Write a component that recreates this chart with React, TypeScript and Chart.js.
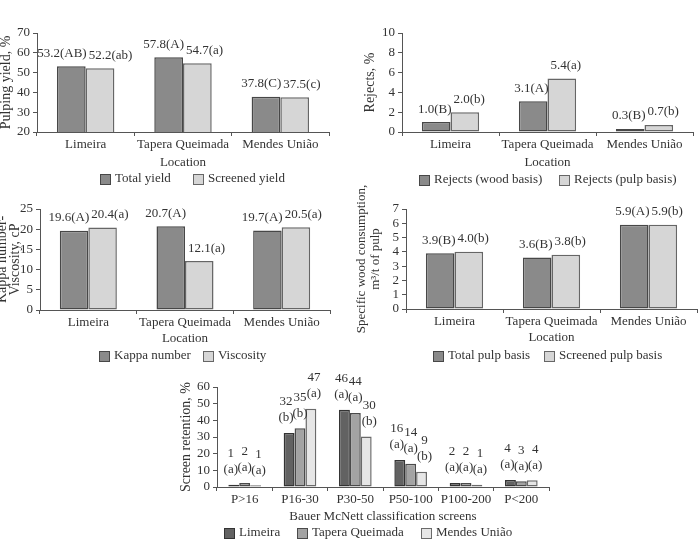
import React, { useEffect, useRef } from 'react';
import { Chart, registerables } from 'chart.js';

Chart.register(...registerables);

const FONT = '"Liberation Serif", "Times New Roman", serif';
const TEXT = '#333333';
const AXIS = '#555555';

// ---- Data ----
const locations = ['Limeira', 'Tapera Queimada', 'Mendes União'];

const totalYield = [53.2, 57.8, 37.8];
const totalYieldGroups = ['AB', 'A', 'C'];
const screenedYield = [52.2, 54.7, 37.5];
const screenedYieldGroups = ['ab', 'a', 'c'];

const rejectsWood = [1.0, 3.1, 0.3];
const rejectsWoodGroups = ['B', 'A', 'B'];
const rejectsPulp = [2.0, 5.4, 0.7];
const rejectsPulpGroups = ['b', 'a', 'b'];

const kappaNumber = [19.6, 20.7, 19.7];
const kappaGroups = ['A', 'A', 'A'];
const viscosity = [20.4, 12.1, 20.5];
const viscosityGroups = ['a', 'a', 'a'];

const woodTotalPulp = [3.9, 3.6, 5.9];
const woodTotalGroups = ['B', 'B', 'A'];
const woodScreenedPulp = [4.0, 3.8, 5.9];
const woodScreenedGroups = ['b', 'b', 'b'];

const screens = ['P>16', 'P16-30', 'P30-50', 'P50-100', 'P100-200', 'P<200'];
const retentionLimeira = [1.4, 32.4, 46.3, 16.2, 2.4, 4.2];
const retentionLimeiraGroups = ['a', 'b', 'a', 'a', 'a', 'a'];
const retentionTapera = [2.4, 35.2, 44.4, 14.0, 2.4, 3.4];
const retentionTaperaGroups = ['a', 'b', 'a', 'a', 'a', 'a'];
const retentionMendes = [1.0, 47.0, 30.3, 9.2, 1.4, 4.0];
const retentionMendesGroups = ['a', 'a', 'b', 'b', 'a', 'a'];

// ---- Styles ----
const DARK = { fill: '#8a8a8a', stroke: '#474747' };
const LIGHT = { fill: '#d6d6d6', stroke: '#666666' };
const S1 = { fill: '#626262', stroke: '#333333' };
const S2 = { fill: '#a3a3a3', stroke: '#4a4a4a' };
const S3 = { fill: '#e6e6e6', stroke: '#6a6a6a' };

const barLabelPlugin = {
  id: 'barLabels',
  afterDatasetsDraw(chart: any, _args: any, opts: any) {
    const ctx = chart.ctx;
    ctx.save();
    ctx.fillStyle = TEXT;
    ctx.font = `13px ${FONT}`;
    ctx.textBaseline = 'middle';
    const n = chart.data.datasets.length;
    chart.data.datasets.forEach((ds: any, di: number) => {
      const meta = chart.getDatasetMeta(di);
      meta.data.forEach((el: any, i: number) => {
        const { x, y, width } = el.getProps(['x', 'y', 'width'], true);
        const v = ds.data[i];
        const g = ds.groups[i];
        if (opts.mode === 'pair') {
          const text = `${v.toFixed(1)}(${g})`;
          if (di === 0) {
            ctx.textAlign = 'right';
            ctx.fillText(text, x + width / 2 + 1, y - 13);
          } else {
            ctx.textAlign = 'left';
            ctx.fillText(text, x - width / 2 + 3, y - 13);
          }
        } else {
          ctx.textAlign = 'center';
          const cx = x + (di - (n - 1) / 2) * 3;
          ctx.fillText(String(Math.round(v)), cx, y - 31);
          ctx.fillText(`(${g})`, cx, y - 15);
        }
      });
    });
    ctx.restore();
  },
};

const legendPlugin = {
  id: 'boxLegend',
  afterDraw(chart: any, _args: any, opts: any) {
    const ctx = chart.ctx;
    ctx.save();
    ctx.font = `13px ${FONT}`;
    ctx.textBaseline = 'middle';
    ctx.textAlign = 'left';
    const box = 11;
    const sp = 4;
    const items = chart.data.datasets.map((d: any) => ({
      text: d.label,
      fill: d.backgroundColor,
      stroke: d.borderColor,
      w: ctx.measureText(d.label).width,
    }));
    const total =
      items.reduce((s: number, it: any) => s + box + sp + it.w, 0) + opts.gap * (items.length - 1);
    let x = Math.round(opts.cx - total / 2);
    const by = Math.round(opts.y - box / 2);
    items.forEach((it: any) => {
      ctx.fillStyle = it.fill;
      ctx.fillRect(x, by, box, box);
      ctx.strokeStyle = it.stroke;
      ctx.lineWidth = 1;
      ctx.strokeRect(x + 0.5, by + 0.5, box - 1, box - 1);
      ctx.fillStyle = TEXT;
      ctx.fillText(it.text, x + box + sp, opts.y);
      x = Math.round(x + box + sp + it.w + opts.gap);
    });
    ctx.restore();
  },
};

type Series = { label: string; data: number[]; groups: string[]; style: { fill: string; stroke: string } };

type Spec = {
  labels: string[];
  series: Series[];
  mode: 'pair' | 'stack';
  yMin: number;
  yMax: number;
  step: number;
  yTitle: string | string[];
  yTitleSize: number;
  yTitleLineHeight: number;
  xTitle: string;
  yWidth: number;
  xHeight: number;
  padding: { left: number; right: number; top: number; bottom: number };
  legend: { cx: number; y: number; gap: number };
};

function makeConfig(s: Spec): any {
  return {
    type: 'bar',
    data: {
      labels: s.labels,
      datasets: s.series.map((se) => ({
        label: se.label,
        data: se.data,
        groups: se.groups,
        backgroundColor: se.style.fill,
        borderColor: se.style.stroke,
        borderWidth: 1.5,
        borderSkipped: false,
        barPercentage: 1,
        categoryPercentage: 0.59,
      })),
    },
    options: {
      responsive: false,
      animation: false,
      events: [],
      layout: { padding: s.padding },
      plugins: {
        legend: { display: false },
        tooltip: { enabled: false },
        barLabels: { mode: s.mode },
        boxLegend: s.legend,
      },
      scales: {
        x: {
          grid: { drawOnChartArea: false, drawTicks: true, tickLength: 4, color: AXIS, offset: true },
          border: { color: AXIS, width: 1 },
          ticks: {
            font: { family: FONT, size: 13 },
            color: TEXT,
            padding: 1,
            maxRotation: 0,
            autoSkip: false,
          },
          title: {
            display: true,
            text: s.xTitle,
            font: { family: FONT, size: 13, lineHeight: 1.2 },
            color: TEXT,
            padding: 0,
          },
          afterFit: (sc: any) => {
            sc.height = s.xHeight;
          },
        },
        y: {
          min: s.yMin,
          max: s.yMax,
          ticks: {
            stepSize: s.step,
            autoSkip: false,
            font: { family: FONT, size: 13 },
            color: TEXT,
            padding: 3,
          },
          grid: { drawOnChartArea: false, drawTicks: true, tickLength: 4, color: AXIS },
          border: { color: AXIS, width: 1 },
          title: {
            display: true,
            text: s.yTitle,
            font: { family: FONT, size: s.yTitleSize, lineHeight: s.yTitleLineHeight },
            color: TEXT,
            padding: 0,
          },
          afterFit: (sc: any) => {
            sc.width = s.yWidth;
          },
        },
      },
    },
    plugins: [barLabelPlugin, legendPlugin],
  };
}

function ChartBox(props: { left: number; top: number; width: number; height: number; spec: Spec }) {
  const ref = useRef<HTMLCanvasElement>(null);
  useEffect(() => {
    const chart = new Chart(ref.current as HTMLCanvasElement, makeConfig(props.spec));
    return () => chart.destroy();
  }, []);
  return (
    <canvas
      ref={ref}
      width={props.width}
      height={props.height}
      style={{
        position: 'absolute',
        left: props.left,
        top: props.top,
        width: props.width,
        height: props.height,
      }}
    />
  );
}

const yieldSpec: Spec = {
  labels: locations,
  series: [
    { label: 'Total yield', data: totalYield, groups: totalYieldGroups, style: DARK },
    { label: 'Screened yield', data: screenedYield, groups: screenedYieldGroups, style: LIGHT },
  ],
  mode: 'pair',
  yMin: 20,
  yMax: 70,
  step: 10,
  yTitle: 'Pulping yield, %',
  yTitleSize: 14,
  yTitleLineHeight: 1.15,
  xTitle: 'Location',
  yWidth: 39,
  xHeight: 38,
  padding: { left: 0, right: 21, top: 33, bottom: 20 },
  legend: { cx: 194.5, y: 179, gap: 22 },
};

const rejectsSpec: Spec = {
  labels: locations,
  series: [
    { label: 'Rejects (wood basis)', data: rejectsWood, groups: rejectsWoodGroups, style: DARK },
    { label: 'Rejects (pulp basis)', data: rejectsPulp, groups: rejectsPulpGroups, style: LIGHT },
  ],
  mode: 'pair',
  yMin: 0,
  yMax: 10,
  step: 2,
  yTitle: 'Rejects, %',
  yTitleSize: 14,
  yTitleLineHeight: 1.15,
  xTitle: 'Location',
  yWidth: 40,
  xHeight: 38,
  padding: { left: 12, right: 6, top: 33, bottom: 20 },
  legend: { cx: 198, y: 180, gap: 17 },
};

const kappaSpec: Spec = {
  labels: locations,
  series: [
    { label: 'Kappa number', data: kappaNumber, groups: kappaGroups, style: DARK },
    { label: 'Viscosity', data: viscosity, groups: viscosityGroups, style: LIGHT },
  ],
  mode: 'pair',
  yMin: 0,
  yMax: 25,
  step: 5,
  yTitle: ['Kappa number-', 'Viscosity, cP'],
  yTitleSize: 14,
  yTitleLineHeight: 13 / 14,
  xTitle: 'Location',
  yWidth: 44,
  xHeight: 36,
  padding: { left: 0, right: 20, top: 19, bottom: 24 },
  legend: { cx: 187, y: 166, gap: 12 },
};

const woodSpec: Spec = {
  labels: locations,
  series: [
    { label: 'Total pulp basis', data: woodTotalPulp, groups: woodTotalGroups, style: DARK },
    { label: 'Screened pulp basis', data: woodScreenedPulp, groups: woodScreenedGroups, style: LIGHT },
  ],
  mode: 'pair',
  yMin: 0,
  yMax: 7,
  step: 1,
  yTitle: ['Specific wood consumption,', 'm³/t of pulp'],
  yTitleSize: 13,
  yTitleLineHeight: 14 / 13,
  xTitle: 'Location',
  yWidth: 51,
  xHeight: 36,
  padding: { left: 5, right: 2, top: 27, bottom: 25 },
  legend: { cx: 198, y: 174, gap: 14 },
};

const screenSpec: Spec = {
  labels: screens,
  series: [
    { label: 'Limeira', data: retentionLimeira, groups: retentionLimeiraGroups, style: S1 },
    { label: 'Tapera Queimada', data: retentionTapera, groups: retentionTaperaGroups, style: S2 },
    { label: 'Mendes União', data: retentionMendes, groups: retentionMendesGroups, style: S3 },
  ],
  mode: 'stack',
  yMin: 0,
  yMax: 60,
  step: 10,
  yTitle: 'Screen retention, %',
  yTitleSize: 14,
  yTitleLineHeight: 1.15,
  xTitle: 'Bauer McNett classification screens',
  yWidth: 39,
  xHeight: 37,
  padding: { left: 1, right: 28, top: 17, bottom: 27 },
  legend: { cx: 191, y: 163, gap: 17 },
};

export default function App() {
  return (
    <div
      style={{
        position: 'absolute',
        left: 0,
        top: 0,
        width: 699,
        height: 551,
        background: '#ffffff',
        overflow: 'hidden',
      }}
    >
      <ChartBox left={-2} top={0} width={352} height={190} spec={yieldSpec} />
      <ChartBox left={350} top={0} width={349} height={190} spec={rejectsSpec} />
      <ChartBox left={-4} top={190} width={354} height={180} spec={kappaSpec} />
      <ChartBox left={350} top={182} width={349} height={188} spec={woodSpec} />
      <ChartBox left={177} top={370} width={400} height={181} spec={screenSpec} />
    </div>
  );
}
